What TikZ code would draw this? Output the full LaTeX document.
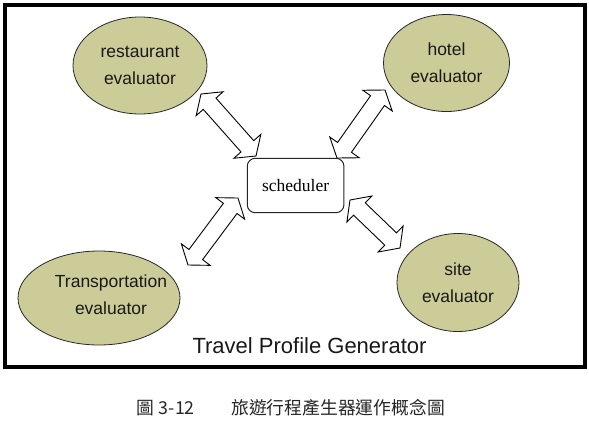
\documentclass[tikz,border=0pt]{standalone}
\usepackage{fontspec}
\setmainfont{Liberation Serif}
\newfontfamily\arialfont{Liberation Sans}
\newfontfamily\cjkfont{Noto Sans CJK TC}
\usetikzlibrary{calc,shapes.geometric}
\definecolor{evalfill}{RGB}{204,204,153}
\definecolor{edgegray}{RGB}{40,40,40}
\newcommand\blockarrow[2]{%
  \draw[barrow] (#1)
   -- ($(#1)!13pt!(#2)!18pt!90:(#2)$)
   -- ($(#1)!13pt!(#2)!8.5pt!90:(#2)$)
   -- ($(#2)!13pt!(#1)!8.5pt!-90:(#1)$)
   -- ($(#2)!13pt!(#1)!18pt!-90:(#1)$)
   -- (#2)
   -- ($(#2)!13pt!(#1)!18pt!90:(#1)$)
   -- ($(#2)!13pt!(#1)!8.5pt!90:(#1)$)
   -- ($(#1)!13pt!(#2)!8.5pt!-90:(#2)$)
   -- ($(#1)!13pt!(#2)!18pt!-90:(#2)$)
   -- cycle;}
\tikzset{
  evalnode/.style={ellipse, draw=edgegray, fill=evalfill, line width=0.8pt,
    inner sep=0pt, align=center, text=black!90,
    font=\arialfont\fontsize{17.5}{27}\selectfont},
  evaltext/.style={inner sep=0pt, align=center, text=black!90,
    font=\arialfont\fontsize{17.5}{27}\selectfont},
  schedbox/.style={draw=black!85, rounded corners=8pt, line width=1pt,
    minimum width=96.7pt, minimum height=54.4pt, inner sep=0pt,
    font=\fontsize{17.5}{20}\selectfont},
  barrow/.style={draw=black, fill=white, line width=0.9pt, line join=miter},
  frameline/.style={draw=black, line width=4pt},
  titletext/.style={inner sep=0pt, font=\arialfont\fontsize{22}{26}\selectfont, text=black!90},
  captext/.style={inner sep=0pt, anchor=west, font=\cjkfont\fontsize{17.8}{20}\selectfont, text=black!85}
}
\begin{document}
\begin{tikzpicture}[x=1pt,y=-1pt]
\useasboundingbox (0,0) rectangle (589,429);
\fill[white] (0,0) rectangle (589,429);
\draw[frameline] (5,4.8) rectangle (584.5,367);

\node[evalnode, minimum width=134pt, minimum height=97pt] (rest) at (140,65.5) {restaurant\\evaluator};
\node[evalnode, minimum width=126pt, minimum height=97pt] (hotel) at (446.5,63) {hotel\\evaluator};
\node[evalnode, minimum width=162pt, minimum height=94pt] (trans) at (99,298) {};
\node[evaltext] (transtext) at (111,295) {Transportation\\evaluator};
\node[evalnode, minimum width=122pt, minimum height=98pt] (site) at (458,282.5) {site\\evaluator};

\node[schedbox] (sched) at (295.6,185.5) {scheduler};

\coordinate (a1) at (201,94);
\coordinate (b1) at (256,156);
\coordinate (a2) at (385,90);
\coordinate (b2) at (337,158);
\coordinate (a3) at (350,200);
\coordinate (b3) at (400,248);
\coordinate (a4) at (238,198);
\coordinate (b4) at (188,265);
\blockarrow{a1}{b1}
\blockarrow{a2}{b2}
\blockarrow{a3}{b3}
\blockarrow{a4}{b4}

\node[titletext] (title) at (309.5,346) {Travel Profile Generator};

\node[captext] (capnum) at (136,408) {圖\hspace{5pt}3-12};
\node[captext] (captitle) at (231,408) {旅遊行程產生器運作概念圖};
\end{tikzpicture}
\end{document}
